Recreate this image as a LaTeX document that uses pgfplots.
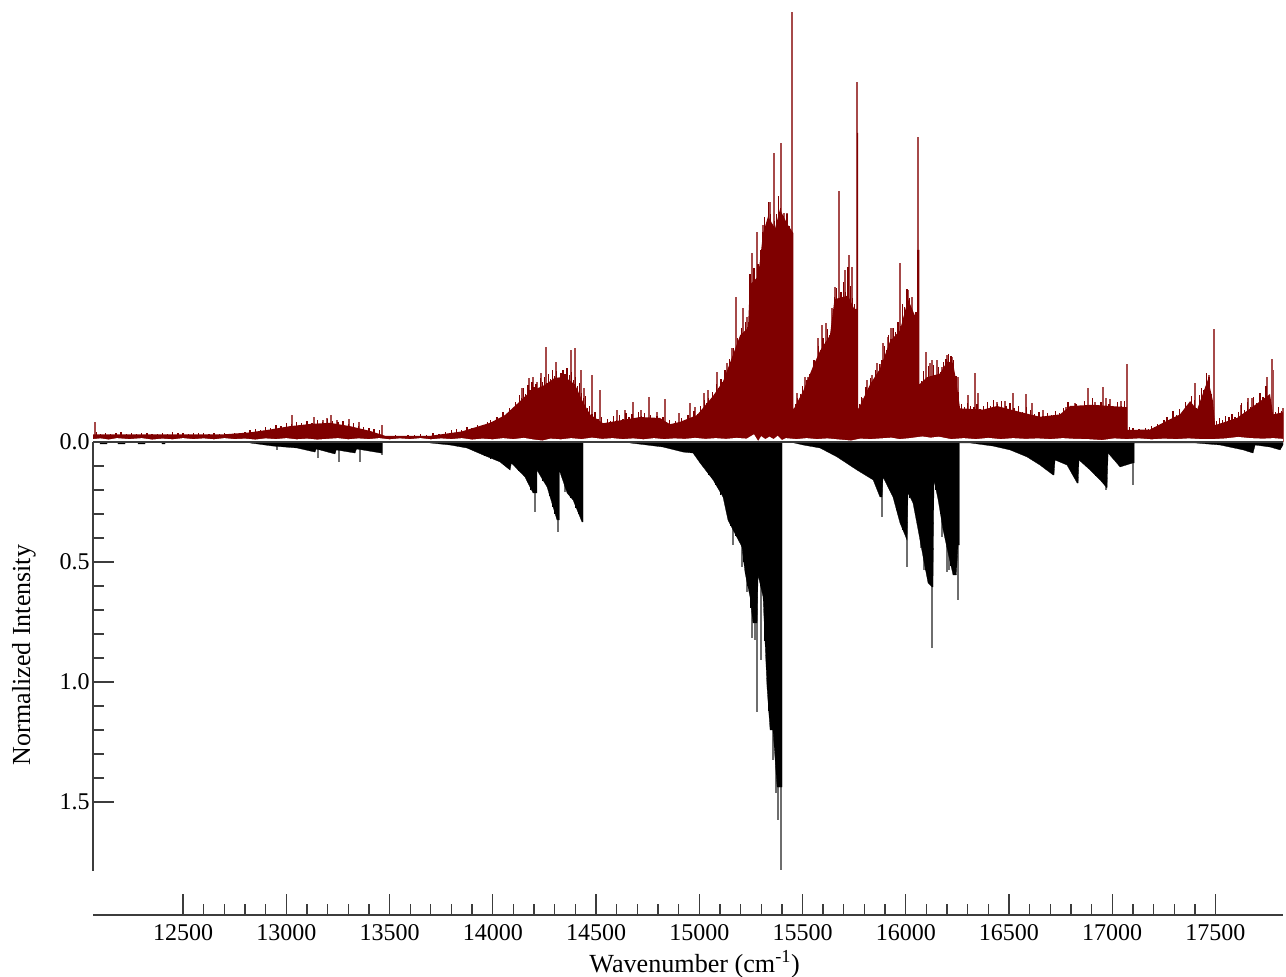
\documentclass[border=0pt]{standalone}
\usepackage{fontspec}
\setmainfont{Liberation Serif}
\usepackage{pgfplots}
\pgfplotsset{compat=1.18}
\definecolor{sred}{HTML}{7F0000}
\definecolor{sspike}{HTML}{A64A4A}
\definecolor{sgray}{HTML}{6E6E6E}
\definecolor{saxis}{HTML}{3C3C3C}
\begin{document}
\begin{tikzpicture}[x=1pt,y=1pt]
\useasboundingbox (0,0) rectangle (964.5,732.75);
\begin{axis}[
  at={(69.75pt,46.5pt)}, anchor=south west,
  scale only axis, width=892.5pt, height=677.25pt,
  xmin=12064, xmax=17827, ymin=-1.9708, ymax=1.7917,
  axis x line=bottom, axis y line=none,
  axis line style={-,color=saxis,line width=1.1pt},
  tick style={color=saxis,line width=1pt},
  tick align=inside,
  scaled x ticks=false,
  xtick={12500,13000,13500,14000,14500,15000,15500,16000,16500,17000,17500},
  minor x tick num=4,
  major tick length=15.5pt, minor tick length=8.5pt,
  xticklabel style={font=\fontsize{18}{18}\selectfont, yshift=-4pt},
  /pgf/number format/assume math mode=true,
  /pgf/number format/set thousands separator={},
  clip=false,
]
% red spikes
\addplot[ycomb, color=sspike, line width=1.1pt, no marks] coordinates {
(12074,.083) (13028,.113) (13134,.104) (13178,.092) (13197,.100) (13217,.113) (13246,.092) (13304,.096) (13352,.083) (13464,.071)
(14142,.225) (14176,.267) (14195,.271) (14214,.250) (14234,.288) (14258,.396) (14306,.333) (14340,.288) (14360,.271) (14379,.383)
(14398,.392) (14428,.300) (14442,.225) (14481,.279) (14520,.217) (14602,.133) (14641,.133) (14679,.167) (14718,.133) (14757,.188)
(14796,.125) (14834,.179) (14902,.121) (14955,.163) (14980,.146) (15023,.204) (15043,.217) (15086,.292) (15135,.329) (15159,.392)
(15178,.604) (15212,.558) (15231,.521) (15256,.788) (15280,.875) (15309,.904) (15343,1.000) (15362,1.204) (15396,1.246) (15411,.954)
(15425,.954) (15449,1.792) (15474,.204) (15512,.271) (15527,.271) (15561,.333) (15575,.433) (15595,.488) (15614,.496) (15643,.558)
(15658,.646) (15677,1.046) (15706,.717) (15725,.779) (15740,.729) (15764,1.500) (15788,.183) (15813,.258) (15837,.279) (15861,.329)
(15880,.325) (15890,.412) (15914,.438) (15929,.475) (15938,.475) (15972,.746) (16011,.633) (16031,.604) (16060,1.271) (16098,.375)
(16118,.329) (16127,.342) (16152,.342) (16176,.313) (16200,.363) (16224,.354) (16253,.271) (16302,.196) (16336,.288) (16350,.204)
(16442,.167) (16481,.171) (16520,.204) (16583,.200) (16612,.163) (16665,.133) (16776,.146) (16820,.163) (16883,.225) (16917,.167)
(16955,.229) (16970,.183) (16989,.179) (17043,.171) (17072,.325) (17401,.246) (17469,.279) (17493,.471) (17624,.154) (17658,.183)
(17677,.183) (17750,.271) (17774,.346) (17779,.300) (17827,.142)
};
% red dense lines
\addplot[ycomb, color=sred, line width=1pt, no marks] coordinates {
(12080,.040) (12100,.033) (12125,.039) (12150,.034) (12175,.038) (12200,.041) (12225,.035) (12250,.038) (12275,.034) (12300,.037)
(12325,.039) (12350,.035) (12375,.033) (12400,.038) (12425,.034) (12450,.040) (12475,.036) (12500,.038) (12525,.034) (12550,.037)
(12575,.036) (12600,.038) (12625,.033) (12650,.037) (12675,.035) (12700,.037) (12725,.034) (12750,.039) (12775,.037) (12800,.043)
(12825,.049) (12850,.054) (12875,.052) (12900,.063) (12925,.060) (12950,.071) (12975,.067) (13000,.079) (13025,.075) (13050,.083)
(13075,.079) (13100,.088) (13125,.080) (13150,.092) (13175,.085) (13200,.096) (13225,.088) (13250,.083) (13275,.088) (13300,.075)
(13325,.079) (13350,.067) (13375,.063) (13400,.058) (13425,.054) (13450,.050) (13500,.027) (13530,.030) (13560,.026) (13590,.031)
(13620,.028) (13650,.034) (13680,.030) (13710,.038) (13740,.034) (13770,.042) (13800,.048) (13825,.056) (13850,.052) (13875,.063)
(13900,.060) (13925,.071) (13950,.067) (13975,.083) (13990,.092) (14005,.088) (14020,.104) (14035,.100) (14050,.125) (14065,.117)
(14080,.142) (14095,.133) (14110,.167) (14120,.158) (14130,.196) (14140,.183) (14150,.225) (14160,.200) (14170,.238) (14180,.217)
(14190,.250) (14200,.229) (14210,.242) (14220,.225) (14230,.267) (14240,.250) (14250,.271) (14260,.246) (14270,.283) (14280,.262)
(14290,.300) (14300,.275) (14310,.296) (14320,.267) (14330,.288) (14340,.300) (14350,.283) (14360,.308) (14370,.279) (14380,.292)
(14390,.258) (14400,.271) (14410,.233) (14420,.246) (14430,.204) (14440,.183) (14450,.192) (14460,.142) (14470,.150) (14480,.117)
(14495,.125) (14510,.096) (14525,.104) (14540,.079) (14555,.096) (14570,.088) (14585,.108) (14600,.092) (14615,.113) (14630,.096)
(14645,.121) (14660,.104) (14675,.117) (14690,.100) (14705,.125) (14720,.108) (14735,.121) (14750,.100) (14765,.113) (14780,.096)
(14795,.108) (14810,.092) (14825,.104) (14840,.083) (14855,.092) (14870,.075) (14885,.088) (14900,.079) (14915,.100) (14930,.088)
(14945,.113) (14960,.100) (14975,.129) (14990,.117) (15005,.150) (15015,.138) (15025,.175) (15035,.163) (15045,.183) (15055,.171)
(15065,.208) (15075,.196) (15085,.242) (15095,.225) (15105,.262) (15115,.250) (15125,.300) (15135,.283) (15145,.346) (15155,.325)
(15165,.392) (15175,.371) (15185,.433) (15195,.417) (15205,.475) (15215,.454) (15225,.500) (15235,.479) (15245,.700) (15255,.650)
(15265,.725) (15275,.675) (15285,.742) (15295,.800) (15305,.875) (15315,.938) (15325,.900) (15335,1.000) (15345,.950) (15355,.880)
(15365,.920) (15375,.950) (15385,1.025) (15395,.975) (15405,.940) (15415,.880) (15425,.950) (15435,.900) (15445,.880)
(15465,.160) (15477,.183) (15489,.200) (15500,.233) (15511,.217) (15522,.258) (15533,.283) (15544,.271) (15555,.342) (15566,.333)
(15577,.400) (15588,.383) (15599,.433) (15610,.417) (15621,.471) (15632,.446) (15643,.483) (15654,.604) (15665,.640) (15676,.600)
(15687,.625) (15698,.665) (15709,.625) (15720,.729) (15731,.650) (15742,.600) (15753,.575)
(15775,.158) (15786,.188) (15797,.175) (15808,.229) (15819,.217) (15830,.267) (15841,.250) (15852,.300) (15863,.288) (15874,.325)
(15885,.342) (15896,.400) (15907,.383) (15918,.446) (15929,.429) (15940,.475) (15951,.458) (15962,.500) (15973,.483) (15984,.575)
(15995,.563) (16006,.638) (16017,.600) (16028,.560) (16039,.520) (16050,.540) (16075,.254) (16087,.296) (16099,.263) (16111,.317)
(16123,.275) (16135,.321) (16147,.279) (16159,.313) (16171,.292) (16183,.333) (16195,.346) (16207,.367) (16219,.358) (16231,.342)
(16243,.275) (16255,.208) (16270,.158) (16285,.146) (16300,.163) (16315,.150) (16330,.146) (16345,.158) (16360,.138) (16375,.150)
(16395,.167) (16410,.150) (16425,.175) (16445,.158) (16465,.171) (16485,.150) (16505,.163) (16525,.142) (16545,.150) (16565,.125)
(16585,.146) (16605,.133) (16625,.117) (16645,.125) (16665,.108) (16685,.121) (16705,.113) (16725,.129) (16745,.121) (16765,.142)
(16785,.167) (16805,.150) (16825,.158) (16845,.142) (16865,.171) (16885,.150) (16905,.183) (16925,.146) (16945,.167) (16965,.150)
(16985,.158) (17005,.142) (17025,.167) (17045,.150) (17060,.171) (17085,.062) (17100,.058) (17115,.050) (17130,.054) (17145,.050)
(17160,.058) (17175,.054) (17190,.067) (17205,.062) (17220,.075) (17235,.071) (17250,.092) (17265,.104) (17280,.088) (17295,.129)
(17310,.113) (17325,.138) (17340,.125) (17355,.167) (17370,.158) (17385,.192) (17397,.175) (17409,.142) (17421,.196) (17433,.225)
(17445,.217) (17457,.288) (17469,.271) (17481,.200) (17505,.088) (17520,.100) (17535,.092) (17550,.108) (17565,.104) (17580,.117)
(17595,.104) (17610,.125) (17625,.163) (17640,.133) (17655,.167) (17670,.146) (17685,.188) (17700,.163) (17715,.204) (17730,.188)
(17745,.233) (17760,.196) (17790,.125) (17805,.146) (17820,.129)
};
% red envelope
\addplot[fill=sred, draw=none] table {
12064 0
12064 .032
12300 .032
12700 .032
12824 .040
12921 .052
13018 .066
13115 .075
13212 .080
13309 .066
13406 .046
13478 .026
13700 .026
13850 .044
13987 .080
14059 .112
14132 .170
14181 .210
14253 .238
14301 .268
14350 .270
14398 .240
14432 .175
14471 .115
14534 .078
14713 .104
14810 .100
14858 .074
14907 .084
14989 .112
15067 .192
15115 .252
15164 .365
15198 .445
15236 .475
15245 .655
15285 .690
15309 .870
15333 .940
15367 .890
15391 .970
15425 .910
15456 .870
15456 .135
15503 .212
15551 .315
15585 .380
15633 .445
15655 .595
15720 .610
15750 .555
15764 .555
15764 1.2875
15769 1.2875
15769 .135
15827 .240
15875 .305
15924 .420
15972 .465
16011 .595
16055 .505
16055 .800
16066 .800
16066 .240
16103 .270
16166 .285
16200 .335
16229 .330
16245 .250
16263 .140
16375 .135
16442 .150
16554 .125
16650 .105
16747 .115
16796 .150
16907 .155
17072 .145
17072 .050
17183 .052
17246 .080
17328 .115
17377 .170
17411 .135
17464 .262
17488 .170
17498 .070
17604 .100
17701 .160
17764 .200
17779 .115
17827 .124
17827 0
};
% white gap beneath the red trace
\addplot[fill=white, draw=none] coordinates {
(12064,-.002) (12064,.012) (12100,.015) (12140,.010) (12180,.016) (12240,.012) (12300,.016) (12350,.010) (12400,.014) (12450,.011)
(12500,.016) (12550,.012) (12600,.015) (12650,.011) (12700,.016) (12750,.012) (12800,.014) (12850,.010) (12900,.015) (12950,.012)
(13000,.016) (13050,.011) (13100,.014) (13150,.010) (13200,.013) (13250,.016) (13300,.011) (13350,.015) (13400,.012) (13450,.016)
(13500,.011) (13550,.015) (13600,.012) (13650,.016) (13700,.011) (13750,.015) (13800,.012) (13850,.016) (13900,.010) (13950,.014)
(14000,.011) (14050,.016) (14100,.012) (14150,.017) (14200,.010) (14240,.006) (14280,.014) (14330,.011) (14380,.016) (14430,.012)
(14480,.018) (14530,.013) (14580,.016) (14630,.012) (14680,.015) (14730,.011) (14780,.016) (14830,.012) (14880,.015) (14930,.013)
(14980,.017) (15030,.013) (15080,.016) (15130,.013) (15180,.017) (15230,.014) (15265,.032) (15285,.004) (15300,.024) (15320,.012)
(15340,.022) (15360,.012) (15380,.026) (15400,.008) (15420,.016) (15470,.012) (15520,.016) (15570,.012) (15620,.015) (15670,.011)
(15735,.006) (15780,.014) (15830,.012) (15880,.015) (15930,.018) (15970,.012) (16020,.016) (16080,.023) (16120,.018) (16160,.022)
(16220,.012) (16280,.016) (16340,.012) (16400,.017) (16460,.012) (16520,.016) (16580,.013) (16640,.015) (16700,.012) (16760,.016)
(16820,.013) (16880,.012) (16950,.008) (17010,.015) (17070,.012) (17130,.015) (17190,.011) (17250,.014) (17310,.012) (17370,.015)
(17430,.012) (17490,.012) (17550,.015) (17610,.021) (17670,.016) (17730,.014) (17780,.016) (17827,.013) (17827,-.002)
};
% black spikes
\addplot[ycomb, color=sgray, line width=1.1pt, no marks] coordinates {
(12955,-.033) (13154,-.067) (13255,-.083) (13357,-.083) (13464,-.054) (14205,-.292) (14316,-.375) (14350,-.210) (15164,-.429) (15207,-.521)
(15231,-.625) (15256,-.817) (15270,-.825) (15280,-1.125) (15299,-.908) (15357,-1.325) (15372,-1.4625) (15382,-1.575) (15396,-1.785) (15885,-.3125)
(16006,-.521) (16074,-.442) (16089,-.533) (16127,-.858) (16176,-.396) (16200,-.542) (16210,-.533) (16253,-.658) (16970,-.200) (17101,-.179)
};
% black envelope
\addplot[fill=black, draw=black, line width=.2pt] table {
12098 0
12098 -.008
12132 -.008
12132 0
12185 0
12185 -.008
12219 -.008
12219 0
12282 0
12282 -.008
12316 -.008
12316 0
12398 0
12398 -.008
12413 -.008
12413 0
12824 0
12824 -.004
12936 -.017
13052 -.025
13139 -.042
13145 -.029
13236 -.050
13242 -.033
13333 -.046
13340 -.029
13459 -.046
13464 -.046
13464 0
13696 0
13696 -.004
13793 -.0125
13875 -.025
13953 -.054
14035 -.083
14084 -.117
14090 -.0875
14156 -.146
14195 -.2125
14214 -.2125
14214 -.117
14263 -.1875
14311 -.325
14322 -.325
14322 -.117
14360 -.2125
14389 -.242
14432 -.333
14437 -.333
14437 0
14665 0
14665 -.004
14825 -.021
14922 -.042
14970 -.046
15004 -.0875
15067 -.158
15115 -.229
15139 -.325
15164 -.367
15207 -.4375
15222 -.546
15246 -.646
15260 -.754
15280 -.754
15285 -.554
15309 -.646
15328 -1.020
15343 -1.200
15357 -1.200
15377 -1.4375
15391 -1.4375
15401 -1.4375
15401 0
15440 0
15503 -.0125
15585 -.025
15667 -.062
15764 -.117
15842 -.158
15875 -.229
15885 -.229
15890 -.146
15938 -.229
15972 -.337
16006 -.408
16011 -.212
16035 -.254
16060 -.367
16084 -.479
16108 -.5875
16127 -.604
16132 -.604
16137 -.158
16157 -.242
16181 -.367
16205 -.4625
16229 -.554
16245 -.554
16253 -.429
16260 -.429
16260 -.004
16312 -.004
16423 -.017
16505 -.033
16587 -.062
16650 -.096
16713 -.137
16718 -.137
16723 -.075
16781 -.096
16830 -.171
16835 -.171
16839 -.075
16893 -.117
16941 -.158
16975 -.192
16980 -.046
17038 -.104
17101 -.087
17106 -.087
17106 -.004
17401 -.004
17522 -.0125
17634 -.033
17682 -.046
17692 -.0125
17764 -.021
17813 -.033
17827 -.012
17827 0
};
% fine steps on the black flanks
\addplot[ycomb, color=black, line width=.75pt, no marks] coordinates {
(13960,-.058) (13990,-.071) (14020,-.075) (14050,-.096) (14070,-.104) (14110,-.100) (14125,-.121) (14140,-.129) (14170,-.167) (14185,-.200)
(14225,-.129) (14240,-.163) (14255,-.175) (14275,-.225) (14290,-.271) (14300,-.300) (14335,-.142) (14375,-.233) (14400,-.275) (14415,-.300)
(14975,-.054) (14990,-.067) (15015,-.100) (15030,-.113) (15045,-.138) (15060,-.150) (15080,-.179) (15095,-.192) (15105,-.221) (15125,-.258)
(15150,-.350) (15175,-.392) (15190,-.408) (15215,-.500) (15235,-.600) (15250,-.690) (15295,-.600) (15318,-.830) (15335,-1.120) (15368,-1.300)
(15860,-.188) (15905,-.171) (15920,-.200) (15955,-.283) (15985,-.367) (16020,-.233) (16045,-.300) (16075,-.421) (16095,-.533) (16118,-.596)
(16145,-.200) (16170,-.300) (16195,-.417) (16218,-.517) (16670,-.108) (16695,-.125) (16760,-.088) (16810,-.142) (16870,-.100) (16920,-.142) (16960,-.175)
};
\end{axis}
\begin{axis}[
  at={(69.75pt,79.5pt)}, anchor=south west,
  scale only axis, width=892.5pt, height=321.75pt,
  xmin=12064, xmax=17827, ymin=-1.7875, ymax=0,
  axis x line=top, axis y line=left,
  axis line style={-,color=saxis,line width=1.1pt},
  tick style={color=saxis,line width=1pt},
  tick align=inside,
  xtick=\empty,
  ytick={-1.5,-1,-.5,0},
  yticklabels={1.5,1.0,0.5,0.0},
  minor y tick num=4,
  major tick length=15.5pt, minor tick length=8.5pt,
  yticklabel style={font=\fontsize{18}{18}\selectfont, xshift=1pt},
  /pgf/number format/assume math mode=true,
]
\end{axis}
\node[font=\fontsize{19.6}{20}\selectfont] at (521,9.5) {Wavenumber (cm\textsuperscript{-1})};
\node[font=\fontsize{19.5}{20}\selectfont, rotate=90] at (18,241.5) {Normalized Intensity};
\end{tikzpicture}
\end{document}
